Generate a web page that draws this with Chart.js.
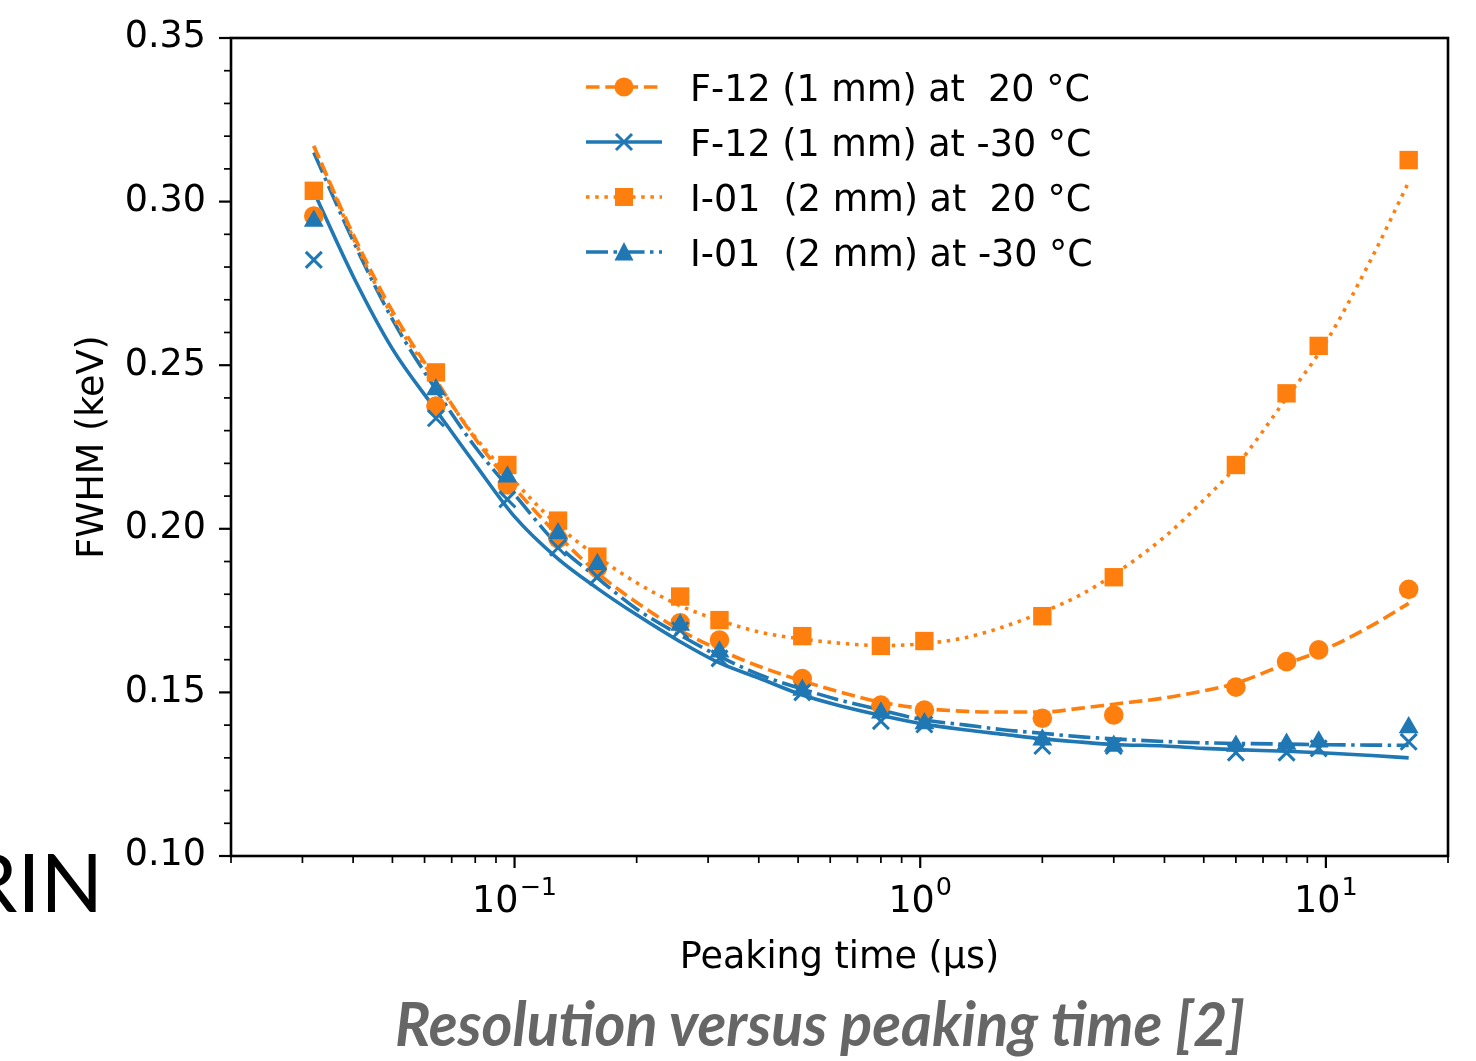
<!DOCTYPE html>
<html><head><meta charset="utf-8">
<script src="https://cdn.jsdelivr.net/npm/chart.js"></script>
<style>
html,body{margin:0;padding:0;background:#fff;overflow:hidden;}
#wrap{position:relative;width:1476px;height:1061px;background:#fff;}
canvas{position:absolute;left:0;top:0;}
svg{position:absolute;left:0;top:0;pointer-events:none;}
</style></head><body>
<div id="wrap">
<canvas id="c" width="1476" height="1061"></canvas>
<svg width="1476" height="1061">
 <text x="103" y="912" text-anchor="end" font-family="Lato" font-size="82" fill="#000">RIN</text>
 <text x="395" y="1046" textLength="850" lengthAdjust="spacingAndGlyphs" font-family="Lato" font-weight="bold" font-style="italic" font-size="61" fill="#666666">Resolution versus peaking time [2]</text>
</svg>
</div>
<script>
const ORANGE = '#ff7f0e', BLUE = '#1f77b4';

// measured points
const peakingTime = [0.032, 0.064, 0.096, 0.128, 0.16, 0.256, 0.32, 0.512, 0.8, 1.024, 2.0, 3.0, 6.0, 8.0, 9.6, 16];
const fwhmF12_20  = [0.2956, 0.2375, 0.2134, 0.1970, 0.1880, 0.1713, 0.1660, 0.1542, 0.1461, 0.1446, 0.1421, 0.1431, 0.1516, 0.1594, 0.1630, 0.1815];
const fwhmF12_m30 = [0.2822, 0.2338, 0.2090, 0.1942, 0.1853, 0.1690, 0.1604, 0.1500, 0.1412, 0.1402, 0.1336, 0.1336, 0.1316, 0.1316, 0.1329, 0.1349];
const fwhmI01_20  = [0.3033, 0.2478, 0.2195, 0.2025, 0.1915, 0.1793, 0.1721, 0.1672, 0.1642, 0.1657, 0.1733, 0.1852, 0.2195, 0.2414, 0.2559, 0.3127];
const fwhmI01_m30 = [0.2941, 0.2426, 0.2159, 0.1986, 0.1892, 0.1706, 0.1624, 0.1507, 0.1438, 0.1405, 0.1355, 0.1336, 0.1336, 0.1342, 0.1349, 0.1393];

// fitted curves
const fitTime    = [0.032, 0.04, 0.05, 0.064, 0.08, 0.1, 0.128, 0.16, 0.2, 0.256, 0.32, 0.4, 0.512, 0.64, 0.8, 1.0, 1.3, 1.6, 2.0, 2.5, 3.0, 4, 5, 6, 8, 10, 13, 16];
const fitF12_20  = [0.317, 0.290, 0.2665, 0.2455, 0.2275, 0.2125, 0.198, 0.1865, 0.1775, 0.169, 0.163, 0.158, 0.1535, 0.150, 0.147, 0.1452, 0.1442, 0.144, 0.144, 0.1452, 0.1464, 0.1483, 0.1505, 0.1528, 0.1588, 0.1633, 0.1705, 0.1772];
const fitF12_m30 = [0.303, 0.2772, 0.255, 0.2363, 0.2197, 0.2037, 0.1908, 0.1818, 0.1737, 0.1655, 0.159, 0.1544, 0.1492, 0.1458, 0.143, 0.1405, 0.1385, 0.1372, 0.1358, 0.1348, 0.1341, 0.1336, 0.1329, 0.1325, 0.132, 0.1315, 0.1307, 0.130];
const fitI01_20  = [0.317, 0.289, 0.265, 0.245, 0.228, 0.2145, 0.201, 0.1915, 0.1835, 0.1765, 0.172, 0.1685, 0.1663, 0.165, 0.1643, 0.1648, 0.1668, 0.170, 0.1745, 0.180, 0.186, 0.1975, 0.2088, 0.219, 0.240, 0.257, 0.283, 0.306];
const fitI01_m30 = [0.315, 0.288, 0.264, 0.2425, 0.225, 0.2105, 0.195, 0.185, 0.1755, 0.1675, 0.161, 0.1555, 0.151, 0.1475, 0.1446, 0.1418, 0.140, 0.1386, 0.1375, 0.1364, 0.1358, 0.135, 0.1346, 0.1344, 0.1342, 0.134, 0.1339, 0.1338];

const seriesLabels = ['F-12 (1 mm) at  20 °C', 'F-12 (1 mm) at -30 °C', 'I-01  (2 mm) at  20 °C', 'I-01  (2 mm) at -30 °C'];
const xTitle = 'Peaking time (µs)';
const yTitle = 'FWHM (keV)';
const yTicks = [0.10, 0.15, 0.20, 0.25, 0.30, 0.35];
const yMinorTicks = [0.11,0.12,0.13,0.14,0.16,0.17,0.18,0.19,0.21,0.22,0.23,0.24,0.26,0.27,0.28,0.29,0.31,0.32,0.33,0.34];
const xMajorTicks = [0.1, 1, 10];
const xMajorLabels = [['10','\u22121'], ['10','0'], ['10','1']];
const xMinorTicks = [0.02,0.03,0.04,0.05,0.06,0.07,0.08,0.09,0.2,0.3,0.4,0.5,0.6,0.7,0.8,0.9,2,3,4,5,6,7,8,9,20];

const DASHED = [13.5, 5.8], DOTTED = [3.5, 5.7], DASHDOT = [22, 5.5, 3.5, 5.5];
const FONT = '"DejaVu Sans", sans-serif';
const FS = 36.5;

const pts = (xs, ys) => xs.map((x, i) => ({x, y: ys[i]}));

function fitSet(ys, color, dash) {
  return {data: pts(fitTime, ys), showLine: true, pointRadius: 0, borderColor: color, borderWidth: 3.6,
    borderDash: dash, borderCapStyle: 'butt', cubicInterpolationMode: 'monotone', fill: false, order: 10};
}
function markSet(ys, color, style, r, bw, order) {
  return {data: pts(peakingTime, ys), showLine: false, pointStyle: style, pointRadius: r, pointBorderWidth: bw,
    pointBackgroundColor: color, pointBorderColor: color, borderColor: color, backgroundColor: color, order};
}

const legendItems = [
  {label: seriesLabels[0], color: ORANGE, dash: DASHED, marker: 'circle'},
  {label: seriesLabels[1], color: BLUE, dash: [], marker: 'x'},
  {label: seriesLabels[2], color: ORANGE, dash: DOTTED, marker: 'square'},
  {label: seriesLabels[3], color: BLUE, dash: DASHDOT, marker: 'triangle'}
];

function drawMarker(ctx, type, x, y, color) {
  ctx.save();
  ctx.setLineDash([]);
  ctx.fillStyle = color; ctx.strokeStyle = color;
  ctx.beginPath();
  if (type === 'circle') { ctx.arc(x, y, 9.5, 0, Math.PI * 2); ctx.fill(); }
  else if (type === 'square') { ctx.fillRect(x - 9, y - 9, 18, 18); }
  else if (type === 'triangle') { ctx.moveTo(x, y - 10); ctx.lineTo(x + 9.5, y + 8.5); ctx.lineTo(x - 9.5, y + 8.5); ctx.closePath(); ctx.fill(); }
  else if (type === 'x') { ctx.lineWidth = 3; ctx.moveTo(x - 8, y - 8); ctx.lineTo(x + 8, y + 8); ctx.moveTo(x + 8, y - 8); ctx.lineTo(x - 8, y + 8); ctx.stroke(); }
  ctx.restore();
}

const decorations = {
  id: 'decorations',
  afterDraw(chart) {
    const {ctx, chartArea: a, scales: {x, y}} = chart;
    ctx.save();
    ctx.strokeStyle = '#000';
    ctx.setLineDash([]);
    const seg = (x1, y1, x2, y2) => { ctx.beginPath(); ctx.moveTo(x1, y1); ctx.lineTo(x2, y2); ctx.stroke(); };
    // x ticks
    ctx.lineWidth = 2.2;
    xMajorTicks.forEach(v => { const p = x.getPixelForValue(v); seg(p, a.bottom, p, a.bottom + 12); });
    ctx.lineWidth = 1.7;
    xMinorTicks.forEach(v => { const p = x.getPixelForValue(v); seg(p, a.bottom, p, a.bottom + 7); });
    // y ticks
    ctx.lineWidth = 2.2;
    yTicks.forEach(v => { const p = y.getPixelForValue(v); seg(a.left, p, a.left - 12, p); });
    ctx.lineWidth = 1.7;
    yMinorTicks.forEach(v => { const p = y.getPixelForValue(v); seg(a.left, p, a.left - 7, p); });
    // spines
    ctx.lineWidth = 2.6;
    ctx.strokeRect(a.left, a.top, a.right - a.left, a.bottom - a.top);
    // x tick labels with superscripts
    ctx.fillStyle = '#000';
    ctx.textBaseline = 'alphabetic';
    ctx.textAlign = 'left';
    xMajorTicks.forEach((v, i) => {
      const p = x.getPixelForValue(v);
      const [base, sup] = xMajorLabels[i];
      ctx.font = FS + 'px ' + FONT; const wb = ctx.measureText(base).width;
      ctx.font = '25.5px ' + FONT; const ws = ctx.measureText(sup).width;
      const sx = p - (wb + ws + 1) / 2;
      ctx.font = FS + 'px ' + FONT; ctx.fillText(base, sx, 912);
      ctx.font = '25.5px ' + FONT; ctx.fillText(sup, sx + wb + 1, 895);
    });
    // axis titles
    ctx.font = FS + 'px ' + FONT;
    ctx.textAlign = 'center';
    ctx.fillText(xTitle, (a.left + a.right) / 2, 968);
    ctx.save();
    ctx.translate(103, (a.top + a.bottom) / 2);
    ctx.rotate(-Math.PI / 2);
    ctx.fillText(yTitle, 0, 0);
    ctx.restore();
    // legend
    legendItems.forEach((it, i) => {
      const yy = 87 + i * 55;
      ctx.save();
      ctx.strokeStyle = it.color; ctx.lineWidth = 3.6; ctx.lineCap = 'butt';
      ctx.setLineDash(it.dash);
      seg(586, yy, 662, yy);
      ctx.restore();
      drawMarker(ctx, it.marker, 624, yy, it.color);
      ctx.fillStyle = '#000';
      ctx.font = FS + 'px ' + FONT;
      ctx.textAlign = 'left';
      ctx.textBaseline = 'alphabetic';
      ctx.fillText(it.label, 690, yy + 13.5);
    });
    ctx.restore();
  }
};

new Chart(document.getElementById('c'), {
  type: 'scatter',
  data: {
    datasets: [
      fitSet(fitF12_20, ORANGE, DASHED),
      fitSet(fitF12_m30, BLUE, []),
      fitSet(fitI01_20, ORANGE, DOTTED),
      fitSet(fitI01_m30, BLUE, DASHDOT),
      markSet(fwhmF12_20, ORANGE, 'circle', 9.8, 0, 4),
      markSet(fwhmF12_m30, BLUE, 'crossRot', 11.3, 3, 3),
      markSet(fwhmI01_20, ORANGE, 'rect', 13, 0, 2),
      markSet(fwhmI01_m30, BLUE, 'triangle', 11.5, 0, 1)
    ]
  },
  options: {
    responsive: false,
    devicePixelRatio: 1,
    animation: false,
    events: [],
    layout: {padding: {left: 0, top: 38, right: 28, bottom: 0}},
    plugins: {legend: {display: false}, tooltip: {enabled: false}, title: {display: false}},
    scales: {
      x: {
        type: 'logarithmic', min: 0.02, max: 20,
        grid: {display: false}, border: {display: false},
        ticks: {display: false},
        afterFit(s) { s.height = 205; }
      },
      y: {
        type: 'linear', min: 0.10, max: 0.35,
        grid: {display: false, drawTicks: true, tickLength: 12}, border: {display: false},
        afterBuildTicks(s) { s.ticks = yTicks.map(v => ({value: v})); },
        ticks: {callback: v => Number(v).toFixed(2), font: {family: 'DejaVu Sans', size: FS}, color: '#000', padding: 13},
        afterFit(s) { s.width = 231; }
      }
    }
  },
  plugins: [decorations]
});
</script>
</body></html>
